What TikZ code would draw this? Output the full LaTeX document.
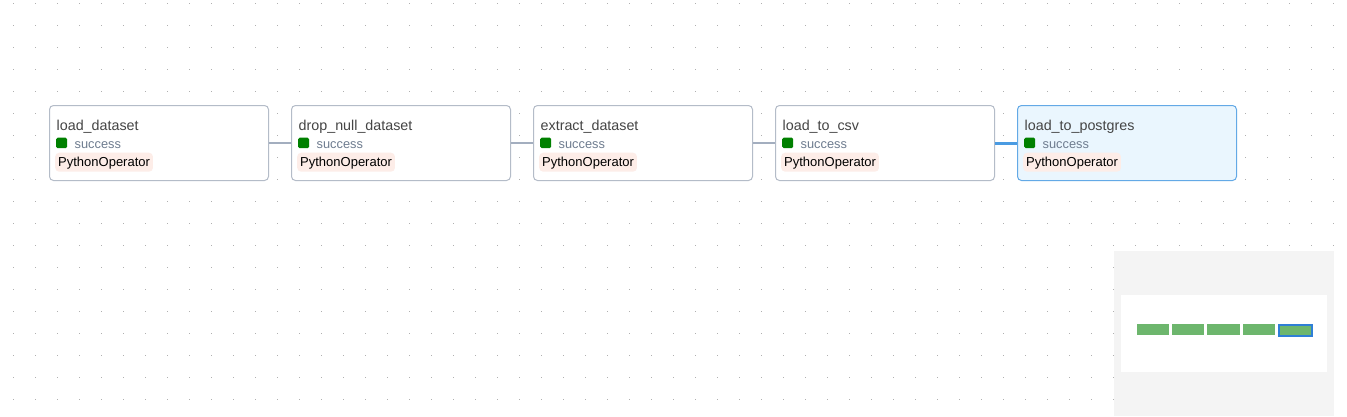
\documentclass[tikz,border=0pt]{standalone}
\usepackage{fontspec}
\setmainfont{Liberation Sans}
\definecolor{nodeborder}{HTML}{B4BCC8}
\definecolor{selborder}{HTML}{63A9E6}
\definecolor{selfill}{HTML}{EAF6FE}
\definecolor{titlecol}{HTML}{444444}
\definecolor{statecol}{HTML}{6E7C8F}
\definecolor{okgreen}{HTML}{008000}
\definecolor{badgefill}{HTML}{FDEDE8}
\definecolor{edgegray}{HTML}{A3AEBF}
\definecolor{edgeblue}{HTML}{4A9BE2}
\definecolor{dotcol}{HTML}{B0B0B0}
\definecolor{minibg}{HTML}{F4F4F4}
\definecolor{minibar}{HTML}{6DB66D}
\definecolor{miniblue}{HTML}{2F7FD6}
\tikzset{
  task/.style={draw=nodeborder, line width=1pt, fill=white, rounded corners=4pt, minimum width=219pt, minimum height=75pt, inner sep=0pt, anchor=north west},
  seltask/.style={task, draw=selborder, fill=selfill},
  tasktitle/.style={anchor=base west, inner sep=0pt, text=titlecol, font=\fontsize{14.3}{16}\selectfont},
  statesq/.style={fill=okgreen, rounded corners=1.5pt, minimum width=11pt, minimum height=10.5pt, inner sep=0pt, anchor=north west},
  statetext/.style={anchor=base west, inner sep=0pt, text=statecol, font=\fontsize{12.8}{14}\selectfont},
  badge/.style={fill=badgefill, rounded corners=4pt, anchor=north west, inner sep=0pt, minimum height=19pt, text=black, font=\fontsize{13}{15}\selectfont, text depth=0pt, align=left},
  edge/.style={draw=edgegray, line width=2pt},
  seledge/.style={draw=edgeblue, line width=3pt},
  minibarst/.style={fill=minibar, minimum width=32pt, minimum height=11pt, inner sep=0pt, anchor=north west},
}
\begin{document}
\begin{tikzpicture}[x=1pt,y=-1pt]
\useasboundingbox (0,0) rectangle (1347,416);
\fill[white] (0,0) rectangle (1347,416);
% dot grid
\foreach \i in {0,...,61} {
  \foreach \j in {0,...,18} {
    \fill[dotcol] ({13+22*\i},{3+22*\j}) rectangle ++(1,1);
  }
}
% tasks
\node[task] (t1) at (49,105) {};
\node[task] (t2) at (291,105) {};
\node[task] (t3) at (533,105) {};
\node[task] (t4) at (775,105) {};
\node[seltask] (t5) at (1017,105) {};
\draw[edge] (t1.east) -- (t2.west);
\draw[edge] (t2.east) -- (t3.west);
\draw[edge] (t3.east) -- (t4.west);
\draw[seledge] (t4.east) -- (t5.west);
\foreach \n/\x/\t in {a/49/load\_dataset, b/291/drop\_null\_dataset, c/533/extract\_dataset, d/775/load\_to\_csv, e/1017/load\_to\_postgres} {
  \node[tasktitle] (title\n) at (\x+7.5,130) {\t};
  \node[statesq] (sq\n) at (\x+7,137.5) {};
  \node[statetext] (st\n) at (\x+25.5,148.5) {success};
  \node[badge] (bd\n) at (\x+6,152.5) {\hspace{3pt}PythonOperator\hspace{3pt}};
}
% minimap
\fill[minibg] (1114,251) rectangle (1334,416);
\fill[white] (1121,295) rectangle (1327,372);
\node[minibarst] (m1) at (1137,324) {};
\node[minibarst] (m2) at (1172,324) {};
\node[minibarst, minimum width=33pt] (m3) at (1207,324) {};
\node[minibarst] (m4) at (1243,324) {};
\node[minibarst, minimum width=33pt, draw=miniblue, line width=2pt] (m5) at (1278,324) {};
\end{tikzpicture}
\end{document}
